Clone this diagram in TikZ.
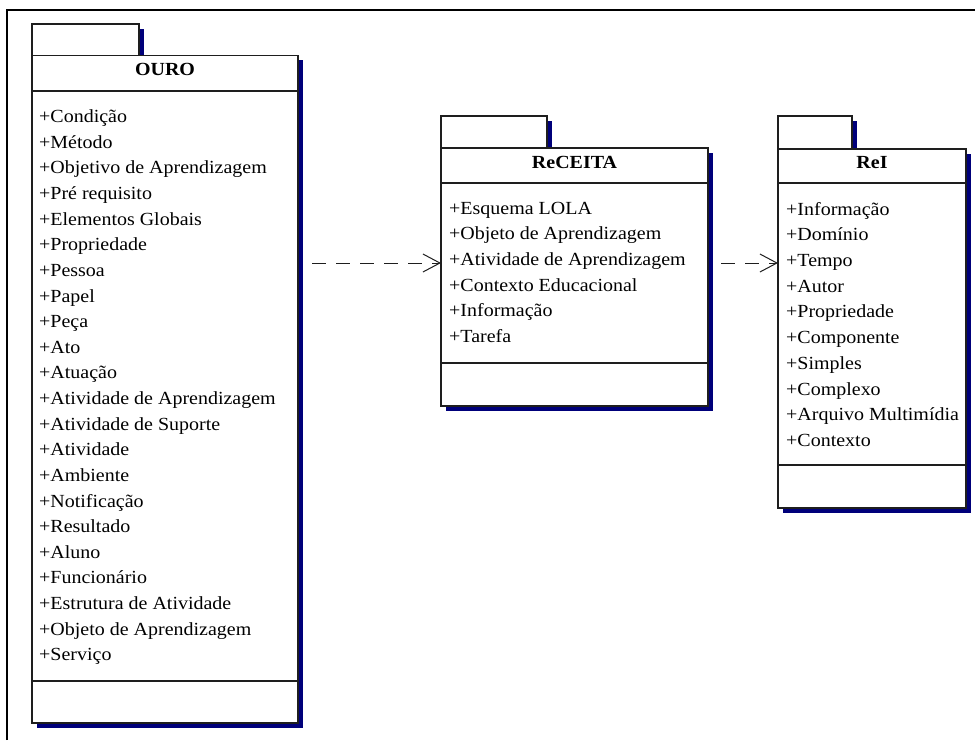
\documentclass[tikz,border=0pt]{standalone}
\usepackage{fontspec}
\setmainfont{Liberation Serif}[FakeStretch=1.08]
\usetikzlibrary{arrows.meta,shadows}

\definecolor{outline}{HTML}{1E1E1E}
\definecolor{shade}{HTML}{00007A}

\tikzset{
  part/.style={draw=outline, line width=1.1pt, fill=white, anchor=north west,
    inner sep=0pt, outer sep=0pt,
    general shadow={shadow xshift=4.5pt, shadow yshift=-4.5pt, fill=shade}},
  title/.style={font=\fontsize{18.5}{22}\selectfont\bfseries, anchor=base, inner sep=0pt},
  attr/.style={font=\fontsize{18.5}{22}\selectfont, anchor=base west, inner sep=0pt},
  dep/.style={draw=outline, line width=1pt, dash pattern=on 14pt off 10pt,
    -{Straight Barb[length=17pt, width=18pt, line width=1pt]}},
  frame/.style={line width=2pt, black},
}

\begin{document}
\begin{tikzpicture}[x=1pt, y=-1pt]
  \useasboundingbox (0,0) rectangle (975,740);
  \fill[white] (0,0) rectangle (975,740);

  % window frame (top and left edges)
  \draw[frame] (7,740) -- (7,10) -- (975,10);

  % ---------------- package OURO ----------------
  \node[part, minimum width=107pt, minimum height=31.7pt] (ouro-tab) at (32,24) {};
  \node[part, minimum width=266pt, minimum height=35.3pt] (ouro-head) at (32,55.7) {};
  \node[part, minimum width=266pt, minimum height=590pt] (ouro-attr) at (32,91) {};
  \node[part, minimum width=266pt, minimum height=42pt] (ouro-ops) at (32,681) {};
  \node[title] (ouro-name) at (165,75) {OURO};
  \foreach \t [count=\i] in {+Condição, +Método, +Objetivo de Aprendizagem,
      +Pré requisito, +Elementos Globais, +Propriedade, +Pessoa, +Papel, +Peça,
      +Ato, +Atuação, +Atividade de Aprendizagem, +Atividade de Suporte,
      +Atividade, +Ambiente, +Notificação, +Resultado, +Aluno, +Funcionário,
      +Estrutura de Atividade, +Objeto de Aprendizagem, +Serviço}
    \node[attr] (ouro-a\i) at (39,{122.7+25.62*(\i-1)}) {\t};

  % ---------------- package ReCEITA ----------------
  \node[part, minimum width=106pt, minimum height=32pt] (rec-tab) at (441,116) {};
  \node[part, minimum width=267pt, minimum height=35pt] (rec-head) at (441,148) {};
  \node[part, minimum width=267pt, minimum height=180pt] (rec-attr) at (441,183) {};
  \node[part, minimum width=267pt, minimum height=43pt] (rec-ops) at (441,363) {};
  \node[title] (rec-name) at (574.5,168) {ReCEITA};
  \foreach \t [count=\i] in {+Esquema LOLA, +Objeto de Aprendizagem,
      +Atividade de Aprendizagem, +Contexto Educacional, +Informação, +Tarefa}
    \node[attr] (rec-a\i) at (449,{214.3+25.65*(\i-1)}) {\t};

  % ---------------- package ReI ----------------
  \node[part, minimum width=74pt, minimum height=33pt] (rei-tab) at (778,116) {};
  \node[part, minimum width=188pt, minimum height=34pt] (rei-head) at (778,149) {};
  \node[part, minimum width=188pt, minimum height=282pt] (rei-attr) at (778,183) {};
  \node[part, minimum width=188pt, minimum height=43pt] (rei-ops) at (778,465) {};
  \node[title] (rei-name) at (872,168) {ReI};
  \foreach \t [count=\i] in {+Informação, +Domínio, +Tempo, +Autor, +Propriedade,
      +Componente, +Simples, +Complexo, +Arquivo Multimídia, +Contexto}
    \node[attr] (rei-a\i) at (786,{215+25.74*(\i-1)}) {\t};

  % ---------------- dependencies ----------------
  \draw[dep] ([xshift=14pt]ouro-attr.east |- 0,263) -- (rec-attr.west |- 0,263);
  \draw[dep] ([xshift=13pt]rec-attr.east |- 0,263) -- (rei-attr.west |- 0,263);
\end{tikzpicture}
\end{document}
